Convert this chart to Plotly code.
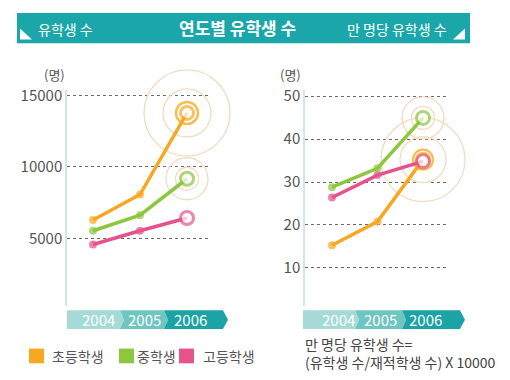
import plotly.graph_objects as go

W, H = 510, 380

# ---------------- data ----------------
years = ["2004", "2005", "2006"]
series_names = ["초등학생", "중학생", "고등학생"]
total_elem = [6300, 8080, 13770]
total_mid = [5550, 6640, 9180]
total_high = [4590, 5550, 6440]
per10k_elem = [15.3, 20.8, 35.2]
per10k_mid = [28.8, 33.2, 44.9]
per10k_high = [26.4, 31.6, 34.8]
left_ticks = [5000, 10000, 15000]
right_ticks = [10, 20, 30, 40, 50]
header_left = "유학생 수"
header_center = "연도별 유학생 수"
header_right = "만 명당 유학생 수"
unit_label = "(명)"
footnote = ["만 명당 유학생 수=", "(유학생 수/재적학생 수) X 10000"]

colors = ["#f7a823", "#8dc63f", "#e6538a"]
TEAL = "#1ba7a9"
BEIGE = "#f0dcc0"
FONT = "Noto Sans CJK KR"

xs = list(range(len(years)))


def px(x):
    return x / W


def py(y):
    return 1 - y / H


fig = go.Figure()


def rings(xa, ya, yval, spec):
    for d, col, w in spec:
        fig.add_trace(go.Scatter(
            x=[xs[-1]], y=[yval], xaxis=xa, yaxis=ya, mode="markers",
            marker=dict(size=d, color="rgba(0,0,0,0)", line=dict(color=col, width=w)),
            cliponaxis=False, hoverinfo="skip", showlegend=False))


# rings (behind lines)
rings("x", "y", total_elem[-1], [(86, BEIGE, 1.3), (48, BEIGE, 1.3), (22, "#f6bd55", 2.5)])
rings("x", "y", total_mid[-1], [(42, BEIGE, 1.3), (23, BEIGE, 1.3)])
rings("x2", "y2", per10k_mid[-1], [(42, BEIGE, 1.3), (23, BEIGE, 1.3)])
rings("x2", "y2", per10k_elem[-1], [(84, BEIGE, 1.3), (46, BEIGE, 1.3), (20, "#f6bd55", 2.2)])


def line(xa, ya, vals, col, name):
    fig.add_trace(go.Scatter(
        x=xs, y=vals, xaxis=xa, yaxis=ya, mode="lines+markers", name=name,
        line=dict(color=col, width=3.5),
        marker=dict(size=[8, 8, 13], color=[col, col, "white"],
                    line=dict(color=col, width=[0, 0, 3])),
        cliponaxis=False, showlegend=False))


left_series = [total_elem, total_mid, total_high]
right_series = [per10k_elem, per10k_mid, per10k_high]
for i in [2, 1, 0]:
    line("x", "y", left_series[i], colors[i], series_names[i])
for i in [0, 2, 1]:
    line("x2", "y2", right_series[i], colors[i], series_names[i])

ydom = [py(305), py(85)]
common_y = dict(showgrid=True, gridcolor="#6a6a6a", griddash="dot", gridwidth=1,
                showline=True, linecolor="#d3e6ea", linewidth=1.5, zeroline=False,
                ticks="", tickfont=dict(family=FONT, size=15, color="#555"), domain=ydom)
common_x = dict(showgrid=False, zeroline=False, showticklabels=False, showline=False)

fig.update_layout(
    width=W, height=H, margin=dict(l=0, r=0, t=0, b=0),
    paper_bgcolor="white", plot_bgcolor="rgba(0,0,0,0)",
    xaxis=dict(domain=[px(67), px(210)], range=[-0.553, 2.489], anchor="y", **common_x),
    yaxis=dict(range=[274, 15342], tickvals=left_ticks, ticktext=[str(t) for t in left_ticks],
               anchor="x", **common_y),
    xaxis2=dict(domain=[px(305), px(447)], range=[-0.593, 2.527], anchor="y2", **common_x),
    yaxis2=dict(range=[1.07, 51.3], tickvals=right_ticks, ticktext=[str(t) for t in right_ticks],
                anchor="x2", **common_y),
)

shapes = []
annotations = []

# header bar
shapes.append(dict(type="rect", xref="paper", yref="paper", x0=px(17), x1=px(470),
                   y0=py(37), y1=py(6), fillcolor=TEAL, line=dict(width=0), layer="below"))


def path(points):
    s = "M" + " L".join(f"{px(a):.5f},{py(b):.5f}" for a, b in points) + " Z"
    return s


shapes.append(dict(type="path", xref="paper", yref="paper",
                   path=path([(20, 22), (20, 33), (32, 33)]),
                   fillcolor="white", line=dict(width=0)))
shapes.append(dict(type="path", xref="paper", yref="paper",
                   path=path([(465, 22), (465, 33), (453, 33)]),
                   fillcolor="white", line=dict(width=0)))
annotations.append(dict(xref="paper", yref="paper", x=px(36), y=py(22), text=header_left,
                        showarrow=False, xanchor="left", yanchor="middle",
                        font=dict(family=FONT, size=14, color="white")))
annotations.append(dict(xref="paper", yref="paper", x=px(237), y=py(21), text=f"<b>{header_center}</b>",
                        showarrow=False, xanchor="center", yanchor="middle",
                        font=dict(family=FONT, size=17, color="white")))
annotations.append(dict(xref="paper", yref="paper", x=px(449), y=py(22), text=header_right,
                        showarrow=False, xanchor="right", yanchor="middle",
                        font=dict(family=FONT, size=14, color="white")))

# year bands
band_cols = ["#a6dad7", "#6fc5c2", "#1ba3a5"]


def band(x0, b1, b2, x1, centers):
    t, b, m = 309, 328, 318.5
    segs = [
        [(x0, t), (b1, t), (b1 + 4, m), (b1, b), (x0, b)],
        [(b1, t), (b2, t), (b2 + 4, m), (b2, b), (b1, b), (b1 + 4, m)],
        [(b2, t), (x1 - 5, t), (x1, m), (x1 - 5, b), (b2, b), (b2 + 4, m)],
    ]
    for seg, col in zip(segs, band_cols):
        shapes.append(dict(type="path", xref="paper", yref="paper", path=path(seg),
                           fillcolor=col, line=dict(width=0), layer="below"))
    for yr, c in zip(years, centers):
        annotations.append(dict(xref="paper", yref="paper", x=px(c), y=py(m), text=yr,
                                showarrow=False, xanchor="center", yanchor="middle",
                                font=dict(family=FONT, size=15, color="white")))


band(67, 120, 164, 228, [98, 144, 190])
band(303, 355, 402, 465, [338, 380, 425])

# unit labels
annotations.append(dict(xref="paper", yref="paper", x=px(54), y=py(69), text=unit_label,
                        showarrow=False, xanchor="center", yanchor="middle",
                        font=dict(family=FONT, size=13, color="#555")))
annotations.append(dict(xref="paper", yref="paper", x=px(290), y=py(69), text=unit_label,
                        showarrow=False, xanchor="center", yanchor="middle",
                        font=dict(family=FONT, size=13, color="#555")))

# legend
leg_sq = [29, 119, 179]
leg_tx = [50, 135, 201]
for name, col, sx, tx in zip(series_names, colors, leg_sq, leg_tx):
    shapes.append(dict(type="rect", xref="paper", yref="paper", x0=px(sx), x1=px(sx + 15),
                       y0=py(363), y1=py(348), fillcolor=col, line=dict(width=0)))
    annotations.append(dict(xref="paper", yref="paper", x=px(tx), y=py(355.5), text=name,
                            showarrow=False, xanchor="left", yanchor="middle",
                            font=dict(family=FONT, size=14, color="#555")))

# footnote (two lines in one text block)
annotations.append(dict(xref="paper", yref="paper", x=px(303), y=py(353), text="<br>".join(footnote),
                        showarrow=False, xanchor="left", yanchor="middle", align="left",
                        font=dict(family=FONT, size=14, color="#444")))

fig.update_layout(shapes=shapes, annotations=annotations)
fig.write_html("out.html", config={"displayModeBar": False},
               post_script="document.body.style.margin='0';document.body.style.padding='0';")
